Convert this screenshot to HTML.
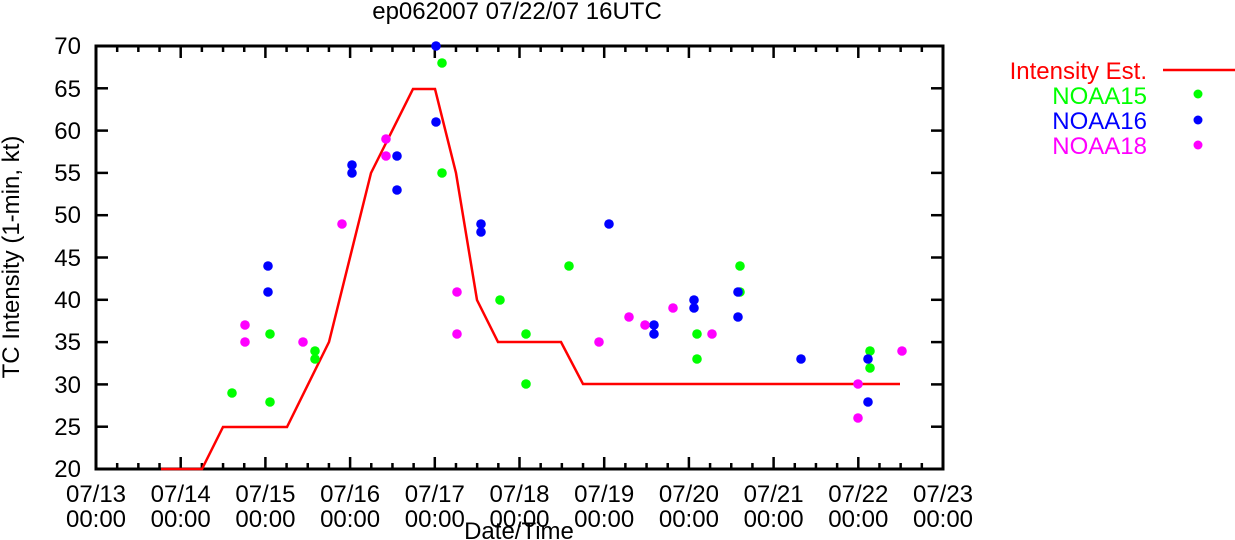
<!DOCTYPE html>
<html><head><style>body{margin:0;background:#fff}svg{display:block}text{font-family:"Liberation Sans",sans-serif}</style></head>
<body>
<svg width="1235" height="540" xmlns="http://www.w3.org/2000/svg">
<rect width="1235" height="540" fill="#fff"/>
<text x="517" y="19" font-size="24" text-anchor="middle">ep062007 07/22/07 16UTC</text>
<g font-size="24" text-anchor="end">
<text x="81" y="54">70</text><text x="81" y="97">65</text><text x="81" y="139">60</text><text x="81" y="181">55</text><text x="81" y="223">50</text><text x="81" y="266">45</text><text x="81" y="308">40</text><text x="81" y="350">35</text><text x="81" y="393">30</text><text x="81" y="435">25</text><text x="81" y="477">20</text>
</g>
<g font-size="24" text-anchor="middle" id="xl"></g>
<text x="519" y="539" font-size="24" text-anchor="middle">Date/Time</text>
<text transform="translate(19,257) rotate(-90)" font-size="24" text-anchor="middle">TC Intensity (1-min, kt)</text>
<g id="ticks" stroke="#000" stroke-width="2.5"></g>
<rect x="96" y="46" width="847" height="423" fill="none" stroke="#000" stroke-width="3"/>
<polyline fill="none" stroke="#f00" stroke-width="2.5" points="161,469 202,469 223,427 287,427 329,342 371,173 413,89 435,89 456,173 477,300 498,342 561,342 583,384 900,384"/>
<g id="dots"></g>
<g font-size="24" text-anchor="end">
<text x="1147" y="79" fill="#f00">Intensity Est.</text>
<text x="1147" y="104" fill="#0f0">NOAA15</text>
<text x="1147" y="129" fill="#00f">NOAA16</text>
<text x="1147" y="154" fill="#f0f">NOAA18</text>
</g>
<line x1="1163" y1="70" x2="1235" y2="70" stroke="#f00" stroke-width="2.5"/>
<circle cx="1198" cy="94" r="4.5" fill="#0f0"/><circle cx="1198" cy="120" r="4.5" fill="#00f"/><circle cx="1198" cy="145" r="4.5" fill="#f0f"/>
<script>
var ns="http://www.w3.org/2000/svg";
var t=document.getElementById("ticks"),xl=document.getElementById("xl");
for(var i=0;i<=40;i++){var x=96+i*84.7/4;var L=(i%4==0)?12:6;
[[469,469-L],[46,46+L]].forEach(function(p){var l=document.createElementNS(ns,"line");l.setAttribute("x1",x);l.setAttribute("x2",x);l.setAttribute("y1",p[0]);l.setAttribute("y2",p[1]);t.appendChild(l);});
if(i%4==0){var d=13+i/4;[["07/"+d,502],["00:00",527]].forEach(function(s){var e=document.createElementNS(ns,"text");e.setAttribute("x",x);e.setAttribute("y",s[1]);e.textContent=s[0];xl.appendChild(e);});}}
for(var j=0;j<=10;j++){var y=469-j*42.3;[[96,108],[943,931]].forEach(function(p){var l=document.createElementNS(ns,"line");l.setAttribute("x1",p[0]);l.setAttribute("x2",p[1]);l.setAttribute("y1",y);l.setAttribute("y2",y);t.appendChild(l);});}
var D={"#0f0":[[232,393],[270,402],[270,334],[315,351],[315,359],[442,63],[442,173],[500,300],[526,334],[526,384],[569,266],[697,334],[697,359],[740,266],[740,292],[870,351],[870,368]],
"#00f":[[268,266],[268,292],[352,165],[352,173],[397,156],[397,190],[436,46],[436,122],[481,224],[481,232],[609,224],[654,325],[654,334],[694,300],[694,308],[738,292],[738,317],[801,359],[868,359],[868,402]],
"#f0f":[[245,325],[245,342],[303,342],[342,224],[386,139],[386,156],[457,292],[457,334],[599,342],[629,317],[645,325],[673,308],[712,334],[858,384],[858,418],[902,351]]};
var g=document.getElementById("dots");
for(var c in D)D[c].forEach(function(p){var e=document.createElementNS(ns,"circle");e.setAttribute("cx",p[0]);e.setAttribute("cy",p[1]);e.setAttribute("r",4.8);e.setAttribute("fill",c);g.appendChild(e);});
</script>
</svg>
</body></html>
